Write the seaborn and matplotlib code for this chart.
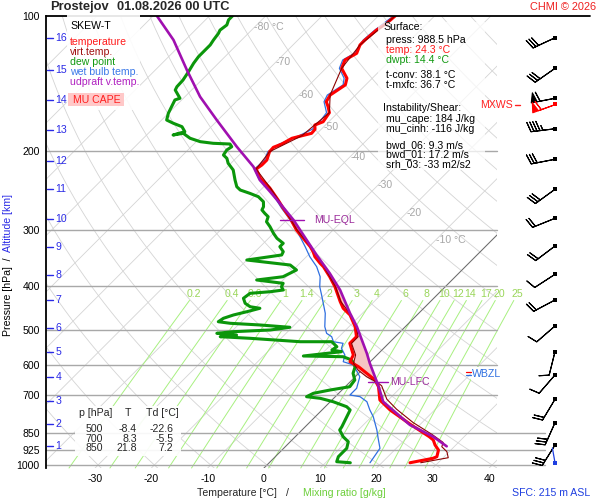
import numpy as np
import matplotlib
matplotlib.use("Agg")
import matplotlib.pyplot as plt
import matplotlib.transforms as mtrans
from matplotlib.patches import Rectangle
from matplotlib.lines import Line2D
from matplotlib.ticker import NullLocator, NullFormatter
import seaborn as sns

# ---------------- data ----------------
temp_p = [988.5, 966.2, 958.3, 926.0, 902.5, 879.7, 864.9, 810.4, 754.2, 716.5, 669.3, 646.7,
          604.1, 588.8, 568.9, 535.8, 517.9, 492.0, 463.3, 447.7, 432.8, 400.8, 380.8, 361.7,
          355.4, 343.6, 334.9, 326.4, 299.7, 282.2, 268.1, 256.9, 241.6, 229.5, 219.2, 214.7,
          209.3, 200.6, 196.1, 192.8, 187.2, 184.8, 182.5, 178.8, 174.9, 172.0, 164.2, 159.2,
          155.2, 150.0, 142.4, 137.6, 130.8, 125.3, 121.1, 116.0, 113.1, 107.5, 103.8, 100.0]
temp_t = [25.0, 28.3, 28.7, 27.8, 26.3, 25.1, 23.8, 18.1, 12.1, 8.5, 5.9, 4.1,
          -1.2, -3.6, -4.2, -6.9, -6.9, -8.9, -11.9, -14.3, -16.0, -19.6, -22.3, -25.2,
          -26.4, -28.5, -29.7, -31.1, -36.5, -39.7, -42.7, -45.1, -48.7, -52.2, -54.5, -54.2,
          -54.2, -55.2, -55.3, -54.4, -53.6, -52.3, -51.0, -51.1, -51.9, -51.0, -51.5, -52.8,
          -54.0, -54.5, -53.6, -54.5, -57.2, -58.1, -57.2, -58.1, -58.1, -57.8, -57.2, -57.0]

dew_p = [988.5, 983.2, 958.3, 917.9, 887.4, 864.9, 835.7, 821.7, 780.6, 754.2, 741.6, 722.8,
         710.3, 704.5, 692.3, 680.7, 669.3, 646.7, 624.8, 604.1, 583.7, 573.9, 571.8, 559.3,
         554.4, 545.2, 531.4, 531.4, 522.2, 517.9, 513.4, 509.0, 504.8, 500.4, 493.5, 487.7,
         483.5, 479.6, 471.3, 463.3, 455.6, 447.7, 444.1, 436.4, 425.3, 414.6, 411.2, 407.6,
         400.8, 393.9, 387.2, 380.8, 367.9, 358.6, 349.5, 340.6, 334.9, 326.4, 320.8, 312.7,
         304.8, 294.6, 287.2, 279.9, 275.1, 270.4, 265.9, 259.2, 252.6, 248.3, 244.1, 240.0,
         231.9, 220.3, 212.8, 207.5, 204.0, 198.8, 195.5, 192.8, 192.1, 190.5, 187.2, 182.5,
         184.1, 181.0, 176.4, 173.4, 170.5, 164.7, 159.2, 153.8, 152.5, 150.0, 146.2, 143.7,
         138.9, 133.1, 127.4, 123.2, 119.1, 116.0, 113.1, 109.3, 107.5, 104.7, 102.0, 100.0]
dew_t = [14.4, 11.8, 11.2, 11.2, 10.3, 8.5, 6.7, 6.5, 5.6, 5.0, 3.8, 0.5,
         -2.4, -5.1, -4.5, -2.1, 0.8, 0.5, -1.0, -1.8, -3.6, -5.7, -12.9, -6.9,
         -8.9, -8.6, -10.4, -16.0, -25.5, -31.1, -28.5, -32.3, -29.7, -23.4, -20.4, -26.1,
         -31.7, -34.1, -33.8, -32.6, -30.8, -29.1, -31.1, -32.6, -33.8, -33.5, -30.2, -28.2,
         -29.1, -29.4, -34.7, -30.6, -29.4, -31.4, -40.0, -34.7, -35.0, -36.5, -36.5, -38.5,
         -40.0, -41.8, -43.3, -43.9, -45.1, -46.2, -46.5, -47.4, -49.2, -51.3, -53.6, -54.8,
         -56.3, -58.4, -60.5, -61.6, -62.8, -63.1, -62.8, -63.6, -66.7, -69.3, -71.7, -73.8,
         -75.3, -73.8, -75.2, -77.3, -79.1, -80.0, -80.6, -81.2, -80.6, -81.5, -82.9, -83.2,
         -83.3, -83.8, -84.4, -84.7, -84.7, -84.7, -85.0, -85.3, -85.6, -85.3, -85.9, -85.9]

wet_p = [988.5, 917.9, 872.0, 835.7, 780.6, 754.2, 722.8, 704.5, 698.4, 674.8, 635.8, 598.8,
         588.8, 568.9, 549.7, 535.8, 531.4, 517.9, 509.0, 492.0, 459.3, 418.2, 400.8, 380.8,
         361.7, 343.6, 326.4, 315.4, 299.7, 282.2, 268.1, 256.9, 241.6, 229.5, 219.2, 209.3,
         200.6, 192.8, 184.8, 178.8, 172.0, 164.2, 155.2, 150.0, 142.4, 137.6, 130.8, 125.3,
         121.1, 113.1, 107.5, 100.0]
wet_t = [17.9, 17.1, 15.0, 13.3, 10.3, 8.5, 6.5, 4.4, 2.3, 2.3, 0.8, -2.4,
         -4.8, -5.7, -7.5, -8.1, -10.1, -11.3, -12.8, -14.3, -16.6, -20.5, -22.3, -24.0,
         -26.4, -29.4, -32.0, -33.8, -36.5, -39.9, -43.0, -45.4, -49.0, -52.5, -54.8, -54.6,
         -55.5, -54.8, -52.8, -51.6, -51.6, -52.0, -54.4, -55.0, -54.0, -55.0, -57.6, -58.5,
         -57.6, -58.4, -58.1, -57.3]

virt_p = [988.5, 963.3, 934.1, 910.4, 891.0, 856.1, 804.2, 751.1, 713.6, 666.2, 657.7, 635.8,
          614.4, 593.6, 568.9, 535.8, 517.9, 492.0, 463.3, 432.8, 400.8, 361.7, 326.4, 299.7,
          268.1, 241.6, 219.2, 200.6, 184.8, 164.2, 150.0, 130.8, 116.0, 100.0]
virt_t = [26.9, 30.9, 29.6, 27.8, 27.3, 24.0, 18.4, 13.1, 9.6, 6.3, 5.3, 2.0,
          -0.7, -2.7, -3.8, -6.6, -6.6, -8.7, -11.7, -15.9, -19.5, -25.1, -31.0, -36.4,
          -42.6, -48.6, -54.5, -55.2, -52.3, -51.5, -54.5, -57.2, -58.1, -57.0]

parcel_p = [908.6, 864.9, 828.4, 814.5, 722.8, 680.7, 657.7, 593.6, 564.0, 492.0, 459.3, 407.6,
            374.2, 340.6, 307.4, 284.7, 261.3, 246.2, 231.9, 216.6, 195.5, 170.5, 151.3, 131.9,
            113.1, 100.0]
parcel_t = [28.6, 24.5, 20.1, 18.3, 9.4, 6.7, 5.1, 0.2, -2.1, -8.6, -12.2, -18.1,
            -22.9, -28.5, -34.4, -38.8, -44.2, -48.0, -51.9, -55.4, -61.9, -70.2, -77.3, -84.4,
            -92.1, -99.3]

wind_p = [111.8, 130.8, 152.5, 178.3, 208.5, 243.2, 282.2, 325.3, 376.1, 429.0, 490.2, 559.3,
          630.3, 713.9, 805.0, 902.5]
wind_dir = [245, 235, 259, 263, 259, 234, 248, 233, 237, 242, 229, 194, 221, 211, 204, 212]
wind_spd = [30, 30, 60, 45, 30, 30, 20, 20, 10, 20, 10, 10, 10, 20, 30, 30]
mxws_p, mxws_dir, mxws_spd = 157.0, 250, 60
sfc_p, sfc_dir = 988.5, 350

alt_km = list(range(1, 17))
alt_p = [907.2, 810.4, 719.1, 635.8, 561.1, 495.3, 429.0, 377.4, 327.0, 283.2, 242.8, 210.0,
         179.4, 153.8, 131.9, 112.1]

p_ticks = [100, 200, 300, 400, 500, 600, 700, 850, 925, 1000]
p_lines = [200, 300, 400, 500, 600, 700, 850, 925, 1000]
t_ticks = [-30, -20, -10, 0, 10, 20, 30, 40]
mix_ratios = [0.2, 0.4, 0.6, 1, 1.4, 2, 3, 4, 6, 8, 10, 12, 14, 17, 20, 25]
mix_labels = ["0.2", "0.4", "0.6", "1", "1.4", "2", "3", "4", "6", "8", "10", "12", "14",
              "17", "20", "25"]
iso_label_t = [-80, -70, -60, -50, -40, -30, -20, -10]
iso_label_p = [106.0, 126.8, 150.2, 176.4, 205.7, 238.5, 274.7, 315.4]
iso_label_txt = ["-80 °C", "-70", "-60", "-50", "-40", "-30", "-20", "-10 °C"]
lfc_p, eql_p, wbzl_p = 655.0, 284.0, 626.0

table_p = ["500", "700", "850"]
table_t = ["-8.4", "8.3", "21.8"]
table_td = ["-22.6", "-5.5", "7.2"]

info_lines = [("Surface:", "black", 383, 27.3),
              ("press: 988.5 hPa", "black", 386, 40.0),
              ("temp: 24.3 °C", "#ff1a1a", 386, 50.0),
              ("dwpt: 14.4 °C", "#119911", 386, 60.0),
              ("t-conv: 38.1 °C", "black", 386, 75.0),
              ("t-mxfc: 36.7 °C", "black", 386, 84.5),
              ("Instability/Shear:", "black", 383, 108.3),
              ("mu_cape: 184 J/kg", "black", 386, 119.3),
              ("mu_cinh: -116 J/kg", "black", 386, 129.3),
              ("bwd_06: 9.3 m/s", "black", 386, 144.7),
              ("bwd_01: 17.2 m/s", "black", 386, 154.3),
              ("srh_03: -33 m2/s2", "black", 386, 164.3)]

legend_lines = [("SKEW-T", "black", 26.0),
                ("temperature", "#ff1a1a", 42.3),
                ("virt.temp.", "#a01010", 52.3),
                ("dew point", "#119911", 61.8),
                ("wet bulb temp.", "#3a78e8", 71.7),
                ("udpraft v.temp.", "#b020c0", 81.7)]

# ---------------- geometry ----------------
W, H = 600, 500
P_TOP, P_BOT = 100.0, 1015.5
K = 34.64
X_LEFT, X_RIGHT = -38.72, 41.39
FS = 7.6

C_RED = "#ff0000"
C_DRED = "#8b0000"
C_GREEN = "#0b960b"
C_BLUE = "#2f6fe0"
C_PURPLE = "#a010b0"
C_KM = "#2a2ae6"


def skew(t, p):
    return np.asarray(t, float) + K * np.log(P_BOT / np.asarray(p, float))


def fx(px):
    return px / W


def fy(py):
    return 1.0 - py / H


sns.set_theme(style="white")
plt.rcParams["font.family"] = ["Liberation Sans", "DejaVu Sans"]
plt.rcParams["font.size"] = FS

fig = plt.figure(figsize=(6, 5), dpi=100, facecolor="white")
ax = fig.add_axes([fx(46), fy(468), 451 / W, 452 / H])
ax.set_facecolor("white")
ax.set_yscale("log")

# ---- background grid ----
pg = np.geomspace(P_TOP, P_BOT, 150)
for t0 in range(-160, 50, 10):
    ax.plot(skew([t0, t0], [P_BOT, P_TOP]), [P_BOT, P_TOP], color="#d4d4d4", lw=0.6, zorder=1)
for th in range(-40, 230, 10):
    tt = (th + 273.15) * (pg / 1000.0) ** 0.2857 - 273.15
    ax.plot(skew(tt, pg), pg, color="#d4d4d4", lw=0.6, zorder=1)
ax.plot(skew([0, 0], [P_BOT, P_TOP]), [P_BOT, P_TOP], color="#6a6a6a", lw=0.7, zorder=1.5)

pm = np.geomspace(430.0, P_BOT, 80)
MIX_LABEL_P = 416.0
for w, lab in zip(mix_ratios, mix_labels):
    es = w * pm / (622.0 + w)
    a = np.log(es / 6.112)
    tt = 243.5 * a / (17.67 - a)
    ax.plot(skew(tt, pm), pm, color="#a8f080", lw=0.7, zorder=1.2, clip_on=False)
    es = w * MIX_LABEL_P / (622.0 + w)
    a = np.log(es / 6.112)
    tl = 243.5 * a / (17.67 - a)
    ax.text(float(skew(tl, MIX_LABEL_P)), MIX_LABEL_P, lab, color="#9ad65a", ha="center",
            va="center", fontsize=FS, zorder=3, clip_on=False)

for t0, pl, txt in zip(iso_label_t, iso_label_p, iso_label_txt):
    ax.text(float(skew(t0, pl)), pl, txt, color="#a6a6a6", ha="left", va="center",
            fontsize=FS, zorder=3)

for p in p_lines:
    ext = p in (850, 925, 1000)
    ax.axhline(p, xmin=0, xmax=(545 - 46) / 451 if ext else 1.0, color="#a8a8a8", lw=1.0,
               zorder=1.6, clip_on=False)
ax.axhline(P_TOP, xmin=0, xmax=(590 - 46) / 451, color="black", lw=1.3, zorder=8,
           clip_on=False)

# ---- CAPE shading ----
lp = np.log(np.geomspace(eql_p, lfc_p, 300))
xv = np.interp(lp, np.log(virt_p[::-1]), skew(virt_t, virt_p)[::-1])
xp = np.interp(lp, np.log(parcel_p[::-1]), skew(parcel_t, parcel_p)[::-1])
ax.fill_betweenx(np.exp(lp), xv, xp, where=xp > xv, interpolate=True, color="#f6c4c4",
                 lw=0, zorder=2)


# ---- profiles ----
def prof(p, t, color, lw, z):
    sns.lineplot(x=skew(t, p), y=np.asarray(p, float), sort=False, estimator=None,
                 color=color, linewidth=lw, ax=ax, zorder=z)


prof(wet_p, wet_t, C_BLUE, 0.9, 4)
prof(dew_p, dew_t, C_GREEN, 2.2, 5)
prof(temp_p, temp_t, C_RED, 2.2, 5.2)
prof(virt_p, virt_t, C_DRED, 0.8, 5.4)
prof(parcel_p, parcel_t, C_PURPLE, 1.9, 5.6)

# ---- LFC / EQL / WBZL markers ----
x_lfc = float(np.interp(np.log(lfc_p), np.log(parcel_p[::-1]), skew(parcel_t, parcel_p)[::-1]))
x_eql = float(np.interp(np.log(eql_p), np.log(parcel_p[::-1]), skew(parcel_t, parcel_p)[::-1]))
ax.plot([x_lfc - 1.7, x_lfc + 1.9], [lfc_p, lfc_p], color=C_PURPLE, lw=1.0, zorder=7)
ax.text(x_lfc + 2.3, lfc_p, "MU-LFC", color="#9a2a9a", ha="left", va="center", fontsize=FS,
        zorder=7)
ax.plot([x_eql - 2.4, x_eql + 2.0], [eql_p, eql_p], color=C_PURPLE, lw=1.0, zorder=7)
ax.text(x_eql + 3.8, eql_p, "MU-EQL", color="#9a2a9a", ha="left", va="center", fontsize=FS,
        zorder=7)

trA = mtrans.blended_transform_factory(ax.transAxes, ax.transData)
ax.text((472 - 46) / 451, wbzl_p, "WBZL", transform=trA, color="#2f6fe0", ha="left",
        va="center", fontsize=FS, zorder=7, clip_on=False,
        bbox=dict(facecolor="white", edgecolor="none", pad=1.0))
ax.plot([(466 - 46) / 451, (471 - 46) / 451], [wbzl_p * np.exp(-1.3 / 195)] * 2,
        transform=trA, color="red", lw=0.9, zorder=8, clip_on=False)
ax.plot([(466 - 46) / 451, (471 - 46) / 451], [wbzl_p * np.exp(1.3 / 195)] * 2,
        transform=trA, color="#2f6fe0", lw=0.9, zorder=8, clip_on=False)

# ---- altitude ticks ----
for km, pk in zip(alt_km, alt_p):
    ax.plot([(47 - 46) / 451, (53 - 46) / 451], [pk, pk], transform=trA, color=C_KM, lw=1.0,
            clip_on=False, zorder=8)
    ax.text((55.5 - 46) / 451, pk, str(km), transform=trA, color=C_KM, ha="left", va="center",
            fontsize=FS, zorder=8)

# ---- axes cosmetics ----
ax.set_ylim(P_BOT, P_TOP)
ax.set_xlim(X_LEFT, X_RIGHT)
ax.grid(False)
for s in ("top", "right", "bottom"):
    ax.spines[s].set_visible(False)
ax.spines["left"].set_color("black")
ax.spines["left"].set_linewidth(1.3)
ax.set_yticks(p_ticks)
ax.set_yticklabels([str(p) for p in p_ticks])
ax.yaxis.set_minor_locator(NullLocator())
ax.yaxis.set_minor_formatter(NullFormatter())
ax.set_xticks(t_ticks)
ax.set_xticklabels([str(t) for t in t_ticks])
ax.tick_params(axis="y", length=0, pad=4.5, labelsize=FS, colors="black")
ax.tick_params(axis="x", length=0, pad=4.0, labelsize=FS, colors="black")
ax.set_xlabel("")
ax.set_ylabel("")

# ---- wind barbs ----
bax = fig.add_axes([fx(497), fy(468), 103 / W, 452 / H])
bax.set_yscale("log")
bax.set_ylim(P_BOT, P_TOP)
bax.set_xlim(0, 103)
bax.axis("off")
bx = np.full(len(wind_p), 58.0)
d = np.deg2rad(np.asarray(wind_dir, float))
s = np.asarray(wind_spd, float)
bax.barbs(bx, wind_p, -s * np.sin(d), -s * np.cos(d), length=5.9, color="black",
          linewidth=0.8, zorder=3)
bax.scatter(bx, wind_p, marker="s", s=6, color="black", linewidths=0, zorder=4)
dm = np.deg2rad(mxws_dir)
bax.barbs([58.0], [mxws_p], [-mxws_spd * np.sin(dm)], [-mxws_spd * np.cos(dm)], length=5.9,
          color="red", linewidth=0.8, zorder=3)
bax.scatter([58.0], [mxws_p], marker="s", s=6, color="red", linewidths=0, zorder=4)
ds = np.deg2rad(sfc_dir)
bax.annotate("", xy=(58.0, sfc_p), xytext=(10.8 * np.sin(ds), 10.8 * np.cos(ds)),
             textcoords="offset points",
             arrowprops=dict(arrowstyle="-", color="#1f3fe0", lw=0.9, shrinkA=0, shrinkB=0))
bax.scatter([58.0], [sfc_p], marker="s", s=8, color="#1f3fe0", linewidths=0, zorder=4)

# ---- boxes ----
fig.add_artist(Rectangle((fx(66.7), fy(110)), (140 - 66.7) / W, 95 / H,
                         transform=fig.transFigure, facecolor="white", edgecolor="none",
                         alpha=0.9, zorder=5))
fig.add_artist(Rectangle((fx(378), fy(170)), (485 - 378) / W, 148 / H,
                         transform=fig.transFigure, facecolor="white", edgecolor="none",
                         alpha=0.75, zorder=5))
fig.add_artist(Rectangle((fx(75), fy(456)), (181 - 75) / W, 50 / H,
                         transform=fig.transFigure, facecolor="white", edgecolor="none",
                         alpha=0.92, zorder=5))
fig.add_artist(Rectangle((fx(68.3), fy(106)), (124 - 68.3) / W, 12.7 / H,
                         transform=fig.transFigure, facecolor="#ffc8c8", edgecolor="none",
                         zorder=6))

# ---- texts ----
def ftext(px, py, txt, **kw):
    kw.setdefault("fontsize", FS)
    kw.setdefault("va", "center")
    kw.setdefault("zorder", 9)
    return fig.text(fx(px), fy(py), txt, **kw)


ftext(50.5, 7.3, "Prostejov", fontsize=9.3, fontweight="bold")
ftext(117.3, 7.3, "01.08.2026 00 UTC", fontsize=9.3, fontweight="bold")
ftext(595.7, 6.7, "CHMI © 2026", color="#ee2020", ha="right", fontsize=7.9)

for txt, col, py in legend_lines:
    ftext(70, py, txt, color=col)
ftext(97, 100, "MU CAPE", color="#ff2020", ha="center")

for txt, col, px, py in info_lines:
    ftext(px, py, txt, color=col)

ftext(78.7, 413.3, "p [hPa]")
ftext(127.7, 413.3, "T", ha="center")
ftext(146, 413.3, "Td [°C]")
for i, (a1, a2, a3) in enumerate(zip(table_p, table_t, table_td)):
    yy = [429.0, 438.5, 448.3][i]
    ftext(102.7, yy, a1, ha="right")
    ftext(136.7, yy, a2, ha="right")
    ftext(173.3, yy, a3, ha="right")

ftext(513, 105, "MXWS", color="#ff2020", ha="right")
fig.add_artist(Line2D([fx(515), fx(520)], [fy(104.5), fy(104.5)], color="#ff2020", lw=1.0,
                      transform=fig.transFigure, zorder=9))

ftext(196.7, 492.7, "Temperature [°C]")
ftext(287, 492.7, "/", ha="center")
ftext(302.7, 492.7, "Mixing ratio [g/kg]", color="#6ccf3a")
ftext(512.3, 492.7, "SFC: 215 m ASL", color="#1f3fe0")

# vertical axis title: black "Pressure [hPa]  /  " then blue "Altitude [km]"
fig.canvas.draw()
rend = fig.canvas.get_renderer()
t1 = fig.text(fx(8.5), fy(336), "Pressure [hPa]  /  ", rotation=90, ha="center", va="bottom",
              fontsize=FS, color="black")
bb = t1.get_window_extent(renderer=rend)
fig.text(fx(8.5), bb.y1 / (fig.dpi * fig.get_figheight()), "Altitude [km]", rotation=90,
         ha="center", va="bottom", fontsize=FS, color=C_KM)

fig.savefig("out.png", dpi=100, facecolor="white")
